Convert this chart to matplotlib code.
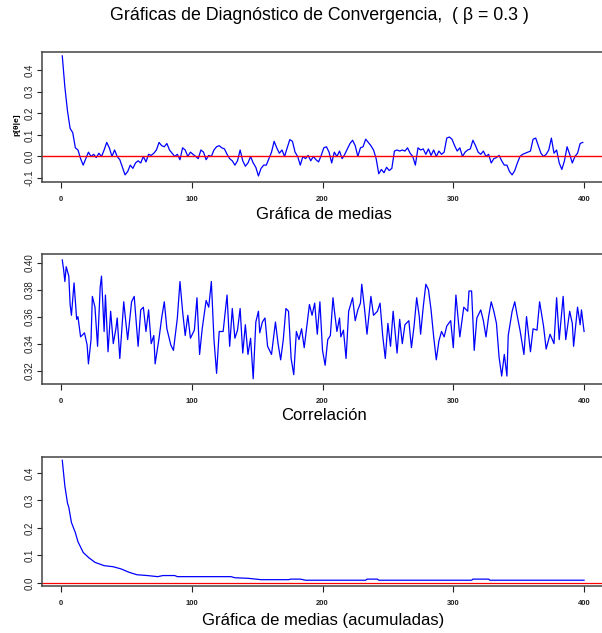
import matplotlib
matplotlib.use("Agg")
import matplotlib.pyplot as plt
import numpy as np

plt.rcParams["font.family"] = ["Liberation Sans", "DejaVu Sans"]

# --- data ---
# Gráfica de medias: p[θ|e] at iterations 1, 3, 5, ..., 399
iter_medias = np.arange(1, 400, 2)
medias = [
    0.465, 0.32, 0.21, 0.13, 0.11, 0.04, 0.03, -0.01, -0.04, -0.01,
    0.02, 0.0, 0.01, -0.005, 0.015, 0.0, 0.03, 0.065, 0.04, 0.0,
    0.03, 0.0, -0.015, -0.05, -0.085, -0.07, -0.04, -0.055, -0.03, -0.02,
    -0.03, 0.0, -0.025, 0.01, 0.005, 0.015, 0.03, 0.065, 0.05, 0.045,
    0.06, 0.03, 0.015, 0.0, 0.01, -0.015, 0.04, 0.03, 0.0, 0.02,
    0.01, 0.0, -0.01, 0.03, 0.02, -0.015, 0.005, 0.0, 0.03, 0.045,
    0.05, 0.04, 0.035, 0.01, -0.01, -0.02, -0.04, -0.02, 0.03, -0.02,
    -0.045, -0.03, 0.0, -0.03, -0.05, -0.09, -0.055, -0.04, -0.04, -0.01,
    0.02, 0.07, 0.04, 0.015, 0.03, 0.0, 0.04, 0.078, 0.07, 0.02,
    0.0, -0.04, 0.0, -0.01, 0.005, -0.02, 0.0, -0.015, -0.025, 0.005,
    0.04, 0.045, 0.02, -0.03, 0.02, 0.0, 0.025, -0.01, 0.01, 0.035,
    0.06, 0.075, 0.05, 0.0, 0.04, 0.045, 0.08, 0.065, 0.05, 0.03,
    -0.01, -0.08, -0.06, -0.075, -0.05, -0.065, -0.055, 0.025, 0.03, 0.025,
    0.03, 0.025, 0.04, 0.015, 0.0, -0.04, 0.04, 0.03, 0.035, 0.01,
    0.035, 0.005, 0.03, 0.0, 0.025, 0.01, 0.02, 0.085, 0.09, 0.08,
    0.05, 0.025, 0.04, 0.0, 0.02, 0.03, 0.035, 0.075, 0.05, 0.02,
    0.01, 0.025, 0.0, 0.01, -0.03, -0.01, -0.005, 0.005, -0.02, -0.04,
    -0.04, -0.07, -0.085, -0.065, -0.03, 0.0, 0.01, 0.015, 0.02, 0.025,
    0.08, 0.085, 0.05, 0.015, 0.0, 0.01, 0.03, 0.085, 0.015, 0.03,
    -0.03, -0.06, -0.02, 0.045, 0.01, -0.03, 0.0, 0.015, 0.06, 0.065,
]

# Correlación
iter_corr = [
    1, 2, 3, 4, 6, 7, 8, 10, 12, 13, 15, 18, 20, 21, 23, 24, 26, 28, 30, 31,
    33, 34, 36, 38, 40, 42, 43, 45, 48, 51, 54, 56, 59, 61, 63, 65, 67, 69, 71, 72,
    75, 77, 79, 81, 84, 86, 89, 91, 93, 95, 97, 99, 102, 104, 106, 108, 111, 113, 115, 117,
    119, 121, 124, 127, 129, 131, 133, 135, 137, 139, 141, 143, 145, 147, 149, 151, 152, 154, 156, 158,
    161, 164, 166, 168, 170, 172, 174, 176, 178, 180, 182, 184, 186, 190, 192, 194, 196, 198, 200, 202,
    204, 206, 208, 209, 211, 213, 214, 216, 218, 220, 223, 225, 227, 229, 230, 232, 234, 237, 239, 242,
    244, 246, 248, 250, 252, 254, 257, 259, 261, 263, 266, 268, 270, 272, 274, 275, 277, 279, 281, 283,
    285, 287, 289, 291, 293, 295, 298, 300, 302, 305, 308, 311, 312, 314, 316, 318, 321, 323, 325, 327,
    329, 331, 333, 335, 337, 339, 341, 342, 345, 347, 349, 351, 354, 356, 359, 361, 364, 366, 369, 371,
    374, 377, 379, 381, 384, 386, 389, 391, 392, 395, 397, 398, 400,
]
corr = [
    0.402, 0.395, 0.386, 0.397, 0.390, 0.369, 0.361, 0.385, 0.358, 0.360, 0.345, 0.348, 0.339, 0.325, 0.343, 0.375, 0.367, 0.338, 0.382, 0.390,
    0.349, 0.376, 0.334, 0.364, 0.340, 0.351, 0.359, 0.329, 0.371, 0.343, 0.371, 0.375, 0.338, 0.365, 0.367, 0.349, 0.365, 0.340, 0.346, 0.325,
    0.344, 0.359, 0.371, 0.351, 0.339, 0.335, 0.359, 0.386, 0.364, 0.346, 0.361, 0.344, 0.350, 0.374, 0.332, 0.351, 0.372, 0.367, 0.386, 0.343,
    0.318, 0.349, 0.349, 0.376, 0.338, 0.366, 0.344, 0.350, 0.366, 0.333, 0.354, 0.332, 0.344, 0.314, 0.356, 0.364, 0.348, 0.356, 0.359, 0.338,
    0.332, 0.356, 0.340, 0.328, 0.343, 0.366, 0.364, 0.329, 0.317, 0.349, 0.343, 0.351, 0.337, 0.369, 0.361, 0.370, 0.347, 0.371, 0.335, 0.324,
    0.343, 0.346, 0.374, 0.365, 0.349, 0.359, 0.345, 0.350, 0.329, 0.364, 0.374, 0.357, 0.365, 0.370, 0.384, 0.367, 0.347, 0.375, 0.361, 0.364,
    0.370, 0.346, 0.329, 0.355, 0.338, 0.364, 0.333, 0.358, 0.340, 0.354, 0.357, 0.337, 0.353, 0.374, 0.360, 0.347, 0.367, 0.384, 0.380, 0.365,
    0.345, 0.328, 0.342, 0.349, 0.345, 0.353, 0.357, 0.337, 0.376, 0.345, 0.367, 0.364, 0.379, 0.379, 0.335, 0.359, 0.365, 0.357, 0.345, 0.360,
    0.371, 0.364, 0.355, 0.330, 0.316, 0.332, 0.316, 0.346, 0.364, 0.371, 0.360, 0.350, 0.332, 0.360, 0.334, 0.351, 0.350, 0.371, 0.353, 0.336,
    0.347, 0.340, 0.374, 0.343, 0.375, 0.343, 0.364, 0.355, 0.338, 0.367, 0.354, 0.365, 0.349,
]

# Gráfica de medias (acumuladas)
iter_acum = [1, 3, 5, 6, 8, 11, 13, 17, 21, 26, 33, 40, 46, 52, 58, 66, 74, 78, 87, 89,
             107, 130, 133, 143, 153, 174, 176, 183, 187, 233, 234, 242, 243, 314, 315, 327, 328, 400]
medias_acum = [0.446, 0.352, 0.29, 0.275, 0.22, 0.183, 0.150, 0.111, 0.093, 0.075, 0.063, 0.059,
               0.051, 0.039, 0.030, 0.027, 0.023, 0.027, 0.027, 0.023, 0.023, 0.023, 0.019, 0.017,
               0.012, 0.012, 0.014, 0.014, 0.010, 0.010, 0.014, 0.014, 0.010, 0.010, 0.014, 0.014,
               0.010, 0.010]

W, H = 602, 633
fig = plt.figure(figsize=(W / 100, H / 100), dpi=100)

def px_axes(top, bottom, left=42, right=605):
    return fig.add_axes([left / W, 1 - bottom / H, (right - left) / W, (bottom - top) / H])

def style(ax, ylim, yticks, ylabels):
    ax.set_xlim(-14.5, 416)
    ax.set_ylim(*ylim)
    ax.set_xticks([0, 100, 200, 300, 400])
    ax.set_yticks(yticks)
    ax.set_yticklabels(ylabels, rotation=90, va="center")
    for s in ax.spines.values():
        s.set_color("#444444")
        s.set_linewidth(1.1)
    ax.tick_params(axis="x", length=4.3, width=0.8, pad=5.5, labelsize=5.5, colors="#222222")
    ax.tick_params(axis="y", length=3.6, width=0.8, pad=2.0, labelsize=7, colors="#222222")
    for t in ax.get_xticklabels():
        t.set_fontweight("bold")

ax1 = px_axes(52, 182)
ax1.plot(iter_medias, medias, color="#0000ff", lw=0.9)
ax1.axhline(0, color="#ff0000", lw=1.0)
style(ax1, (-0.118, 0.483), [-0.1, 0.0, 0.1, 0.2, 0.3, 0.4], ["-0.1", "0.0", "0.1", "0.2", "0.3", "0.4"])
ax1.set_ylabel("p[θ|e]", fontsize=6, fontweight="bold")
ax1.yaxis.set_label_coords(-0.038, 0.44)

ax2 = px_axes(254, 384)
ax2.plot(iter_corr, corr, color="#0000ff", lw=0.9)
style(ax2, (0.3101, 0.4064), [0.32, 0.34, 0.36, 0.38, 0.40], ["0.32", "0.34", "0.36", "0.38", "0.40"])

ax3 = px_axes(457, 586)
ax3.plot(iter_acum, medias_acum, color="#0000ff", lw=0.9)
ax3.axhline(0, color="#ff0000", lw=0.9)
style(ax3, (-0.011, 0.458), [0.0, 0.1, 0.2, 0.3, 0.4], ["0.0", "0.1", "0.2", "0.3", "0.4"])

cx = (42 + 605) / 2 / W
fig.text(cx, 1 - 215 / H, "Gráfica de medias", ha="center", va="center", fontsize=12)
fig.text(cx, 1 - 415 / H, "Correlación", ha="center", va="center", fontsize=12)
fig.text(cx, 1 - 620 / H, "Gráfica de medias (acumuladas)", ha="center", va="center", fontsize=12)
fig.text(319 / W, 1 - 16 / H, "Gráficas de Diagnóstico de Convergencia,  ( β = 0.3 )",
         ha="center", va="center", fontsize=12.8)

fig.savefig("out.png", dpi=100)
